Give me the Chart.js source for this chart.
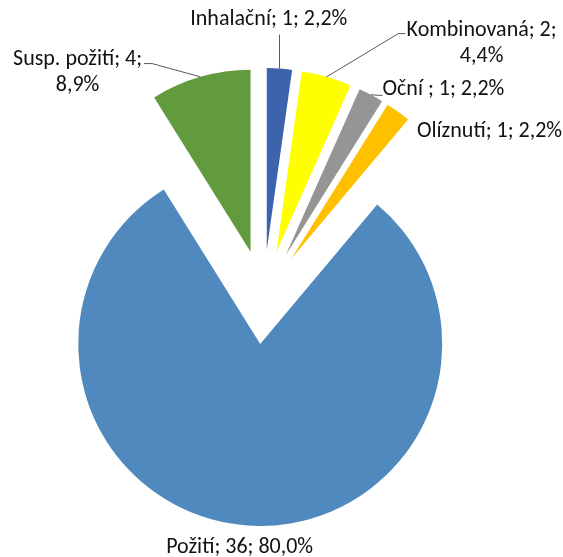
<!DOCTYPE html>
<html>
<head>
<meta charset="utf-8">
<script src="https://cdn.jsdelivr.net/npm/chart.js@4.4.1/dist/chart.umd.min.js"></script>
<style>
html,body{margin:0;padding:0;background:#fff;}
</style>
</head>
<body>
<canvas id="c" width="563" height="557"></canvas>
<script>
// ---- data ----
const categories = ['Inhalační', 'Kombinovaná', 'Oční ', 'Olíznutí', 'Požití', 'Susp. požití'];
const counts = [1, 2, 1, 1, 36, 4];
const sliceColors = ['#3C64AD', '#FFFF00', '#959595', '#FFC000', '#4F89BD', '#629A3E'];

// ---- layout (not data) ----
const EXPLODE = 47;
const RADIUS = 182;
const FONT = '22px Carlito, Calibri, "Open Sans", sans-serif';
const LINE_H = 26;
// label placement relative to the outer mid-point of each slice
const labelLayout = [
  {dx: -10.7, dy: -49, split: false, leader: [[0, -34]]},
  {dx: 155, dy: -33.8, split: true, leader: [[71.7, -43.3], [78.7, -43.3]]},
  {dx: 72.4, dy: -5.3, split: false, leader: [[11.4, 0.7]]},
  {dx: 91.4, dy: 19.9, split: false, leader: null},
  {dx: -7.9, dy: 22, split: false, leader: null},
  {dx: -122.8, dy: -4.8, split: true, leader: [[-48.3, -13.3], [-56.3, -13.3]]}
];

const total = counts.reduce((a, b) => a + b, 0);
const pctText = v => (v / total * 100).toFixed(1).replace('.', ',') + '%';

const explodePlugin = {
  id: 'explode',
  afterDatasetUpdate(chart, args) {
    args.meta.data.forEach(el => {
      const mid = (el.startAngle + el.endAngle) / 2;
      el.x += Math.cos(mid) * EXPLODE;
      el.y += Math.sin(mid) * EXPLODE;
    });
  }
};

const labelPlugin = {
  id: 'pieLabels',
  afterDatasetsDraw(chart) {
    const ctx = chart.ctx;
    const meta = chart.getDatasetMeta(0);
    ctx.save();
    ctx.font = FONT;
    ctx.fillStyle = '#111111';
    ctx.textAlign = 'center';
    ctx.textBaseline = 'middle';
    meta.data.forEach((el, i) => {
      const mid = (el.startAngle + el.endAngle) / 2;
      const ex = el.x + Math.cos(mid) * el.outerRadius;
      const ey = el.y + Math.sin(mid) * el.outerRadius;
      const L = labelLayout[i];
      const v = counts[i];
      const full = categories[i] + '; ' + v + '; ' + pctText(v);
      const lines = L.split ? [categories[i] + '; ' + v + ';', pctText(v)] : [full];
      const cx = ex + L.dx, cy = ey + L.dy;
      lines.forEach((t, k) => {
        ctx.fillText(t, cx, cy + (k - (lines.length - 1) / 2) * LINE_H);
      });
      if (L.leader) {
        ctx.beginPath();
        ctx.strokeStyle = '#595959';
        ctx.lineWidth = 1;
        ctx.moveTo(ex, ey);
        L.leader.forEach(p => ctx.lineTo(ex + p[0], ey + p[1]));
        ctx.stroke();
      }
    });
    ctx.restore();
  }
};

new Chart(document.getElementById('c'), {
  type: 'pie',
  data: {
    labels: categories,
    datasets: [{
      data: counts,
      backgroundColor: sliceColors,
      borderWidth: 0,
      radius: RADIUS
    }]
  },
  options: {
    responsive: false,
    devicePixelRatio: 1,
    animation: false,
    layout: {padding: {left: 0, right: 36, top: 37, bottom: 0}},
    plugins: {legend: {display: false}, tooltip: {enabled: false}}
  },
  plugins: [explodePlugin, labelPlugin]
});
</script>
</body>
</html>
